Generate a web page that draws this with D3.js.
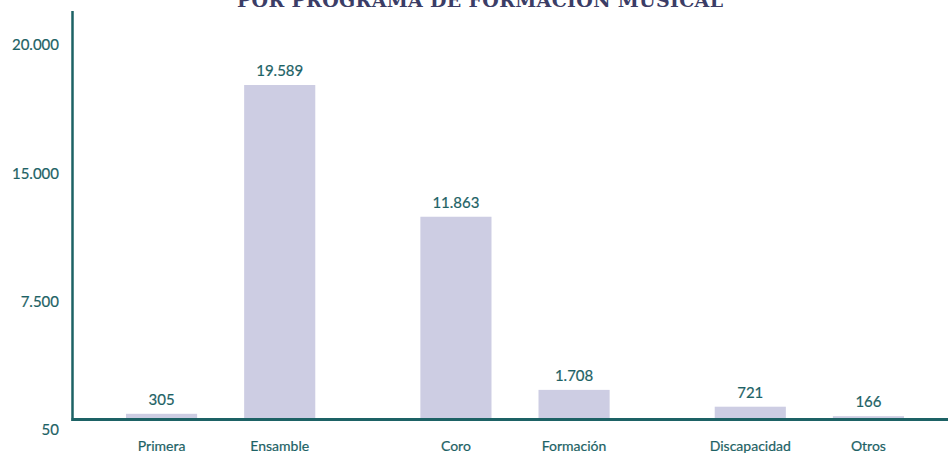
<!DOCTYPE html>
<html>
<head>
<meta charset="utf-8">
<script src="https://cdn.jsdelivr.net/npm/d3@7"></script>
<style>
  html, body { margin: 0; padding: 0; background: #fff; }
  svg { display: block; font-family: Lato, "Open Sans", sans-serif; }
  .lbl { fill: #1d6265; stroke: #1d6265; stroke-width: 0.2px; }
</style>
</head>
<body>
<div id="chart"></div>
<script>
// data
var categories = ["Primera", "Ensamble", "Coro", "Formación", "Discapacidad", "Otros"];
var values = [305, 19589, 11863, 1708, 721, 166];
var groupOf = [0, 0, 1, 1, 2, 2];
var tickLabels = ["50", "7.500", "15.000", "20.000"];
var title = "POR PROGRAMA DE FORMACIÓN MUSICAL";

var W = 948, H = 455;
var teal = "#1d6265", barColor = "#cdcde3";
var axisX = 72.5, baseY = 419.5;

var svg = d3.select("#chart").append("svg")
  .attr("width", W).attr("height", H);

// scales
var x0 = d3.scaleBand()
  .domain(d3.range(3))
  .range([126, 904])
  .paddingInner(0.357).paddingOuter(0);

var x1 = d3.scaleBand()
  .domain([0, 1])
  .range([0, x0.bandwidth()])
  .paddingInner(0.398).paddingOuter(0);

function xPos(i) { return x0(groupOf[i]) + x1(i % 2); }

var y = d3.scaleLinear().domain([0, 20000]).range([419, 78]);

// decorative y labels, evenly spaced
var yLab = d3.scalePoint().domain(tickLabels).range([430, 45]);

var data = categories.map(function(c, i) { return {name: c, value: values[i], i: i}; });

// title (cut at top like the original)
svg.append("text")
  .attr("x", 480).attr("y", 7)
  .attr("text-anchor", "middle")
  .attr("textLength", 486)
  .attr("lengthAdjust", "spacing")
  .style("font-family", "'DejaVu Serif', 'Liberation Serif', serif")
  .style("font-size", "19px")
  .style("font-weight", "bold")
  .style("fill", "#3b3d66")
  .text(title);

// bars
svg.selectAll("rect.bar")
  .data(data)
  .enter().append("rect")
  .attr("class", "bar")
  .attr("x", function(d) { return xPos(d.i); })
  .attr("width", x1.bandwidth())
  .attr("y", function(d) { return y(d.value); })
  .attr("height", function(d) { return y(0) - y(d.value); })
  .attr("fill", barColor);

// value labels
svg.selectAll("text.val")
  .data(data)
  .enter().append("text")
  .attr("class", "val lbl")
  .attr("x", function(d) { return xPos(d.i) + x1.bandwidth() / 2; })
  .attr("y", function(d) { return y(d.value) - 9; })
  .attr("text-anchor", "middle")
  .style("font-size", "15px")
  .text(function(d) { return d3.format(",")(d.value).replace(/,/g, "."); });

// category labels
svg.selectAll("text.cat")
  .data(data)
  .enter().append("text")
  .attr("class", "cat lbl")
  .attr("x", function(d) { return xPos(d.i) + x1.bandwidth() / 2; })
  .attr("y", 451)
  .attr("text-anchor", "middle")
  .style("font-size", "14px")
  .text(function(d) { return d.name; });

// y labels
var yAxis = d3.axisLeft(yLab).tickSize(0).tickPadding(0);
var gy = svg.append("g")
  .attr("transform", "translate(59,0)")
  .call(yAxis);
gy.select(".domain").remove();
gy.selectAll("text")
  .attr("class", "lbl")
  .attr("fill", null)
  .style("font-family", "Lato, 'Open Sans', sans-serif")
  .style("font-size", "15px");

// axis lines
svg.append("line")
  .attr("x1", axisX).attr("x2", axisX)
  .attr("y1", 11).attr("y2", baseY + 1.5)
  .attr("stroke", teal).attr("stroke-width", 2.5);
svg.append("line")
  .attr("x1", axisX - 1).attr("x2", W)
  .attr("y1", baseY).attr("y2", baseY)
  .attr("stroke", teal).attr("stroke-width", 3);
</script>
</body>
</html>
